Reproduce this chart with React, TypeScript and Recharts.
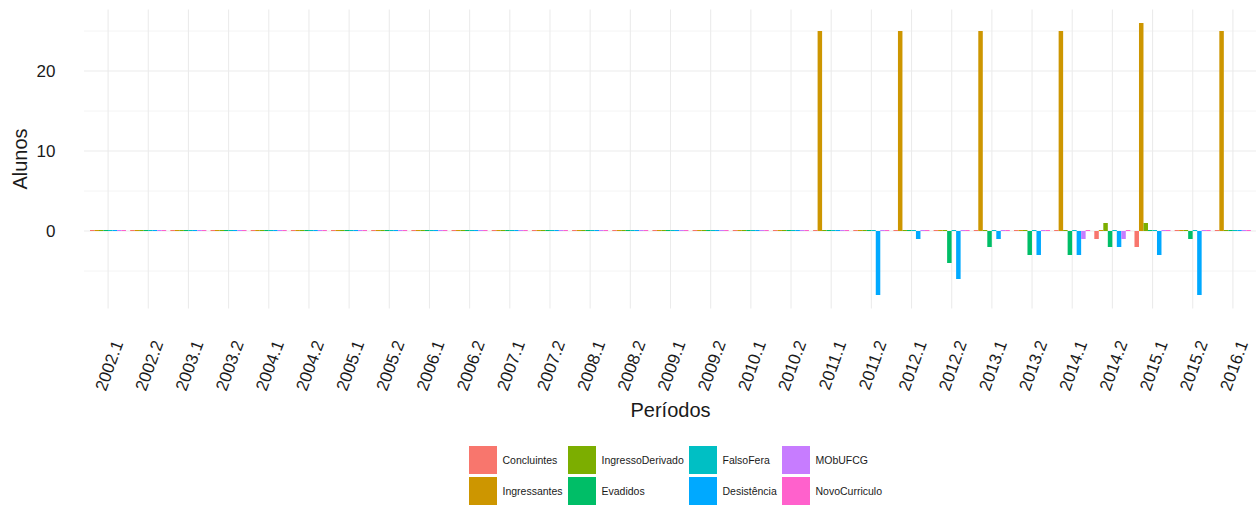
import React from 'react';
import { BarChart, Bar, XAxis, YAxis, CartesianGrid, Legend } from 'recharts';

const FONT = '"Liberation Sans", Arial, Helvetica, sans-serif';
const TEXT = '#1a1a1a';

const periods = [
  '2002.1', '2002.2', '2003.1', '2003.2', '2004.1', '2004.2', '2005.1', '2005.2',
  '2006.1', '2006.2', '2007.1', '2007.2', '2008.1', '2008.2', '2009.1', '2009.2',
  '2010.1', '2010.2', '2011.1', '2011.2', '2012.1', '2012.2', '2013.1', '2013.2',
  '2014.1', '2014.2', '2015.1', '2015.2', '2016.1',
];

const concluintes = [0, 0, 0, 0, 0, 0, 0, 0, 0, 0, 0, 0, 0, 0, 0, 0, 0, 0, 0, 0, 0, 0, 0, 0, 0, -1, -2, 0, 0];
const ingressantes = [0, 0, 0, 0, 0, 0, 0, 0, 0, 0, 0, 0, 0, 0, 0, 0, 0, 0, 25, 0, 25, 0, 25, 0, 25, 0, 26, 0, 25];
const ingressoDerivado = [0, 0, 0, 0, 0, 0, 0, 0, 0, 0, 0, 0, 0, 0, 0, 0, 0, 0, 0, 0, 0, 0, 0, 0, 0, 1, 1, 0, 0];
const evadidos = [0, 0, 0, 0, 0, 0, 0, 0, 0, 0, 0, 0, 0, 0, 0, 0, 0, 0, 0, 0, 0, -4, -2, -3, -3, -2, 0, -1, 0];
const falsoFera = [0, 0, 0, 0, 0, 0, 0, 0, 0, 0, 0, 0, 0, 0, 0, 0, 0, 0, 0, 0, 0, 0, 0, 0, 0, 0, 0, 0, 0];
const desistencia = [0, 0, 0, 0, 0, 0, 0, 0, 0, 0, 0, 0, 0, 0, 0, 0, 0, 0, 0, -8, -1, -6, -1, -3, -3, -2, -3, -8, 0];
const mobUfcg = [0, 0, 0, 0, 0, 0, 0, 0, 0, 0, 0, 0, 0, 0, 0, 0, 0, 0, 0, 0, 0, 0, 0, 0, -1, -1, 0, 0, 0];
const novoCurriculo = [0, 0, 0, 0, 0, 0, 0, 0, 0, 0, 0, 0, 0, 0, 0, 0, 0, 0, 0, 0, 0, 0, 0, 0, 0, 0, 0, 0, 0];

const seriesNames = ['Concluintes', 'Ingressantes', 'IngressoDerivado', 'Evadidos', 'FalsoFera', 'Desistência', 'MObUFCG', 'NovoCurriculo'];
const seriesValues = [concluintes, ingressantes, ingressoDerivado, evadidos, falsoFera, desistencia, mobUfcg, novoCurriculo];
const seriesColors = ['#F8766D', '#CD9600', '#7CAE00', '#00BE67', '#00BFC4', '#00A9FF', '#C77CFF', '#FF61CC'];

const yTicks = [0, 10, 20];
const yMinorTicks = [-5, 5, 15, 25];
const yDomain = [-9.7, 27.7];

const data = periods.map((p, i) => {
  const row: Record<string, string | number> = { periodo: p };
  seriesNames.forEach((name, s) => {
    row[name] = seriesValues[s][i];
  });
  return row;
});

const legendColLefts = [0, 99, 220, 313];

const LegendContent = () => (
  <div style={{ position: 'relative', width: 430, height: 60, fontFamily: FONT, fontSize: 10.5, color: TEXT }}>
    {seriesNames.map((name, i) => {
      const col = Math.floor(i / 2);
      const row = i % 2;
      return (
        <div
          key={name}
          style={{ position: 'absolute', left: legendColLefts[col], top: row * 31, height: 28, display: 'flex', alignItems: 'center' }}
        >
          <div style={{ width: 28, height: 28, background: seriesColors[i] }} />
          <span style={{ marginLeft: 5.5, whiteSpace: 'nowrap' }}>{name}</span>
        </div>
      );
    })}
  </div>
);

const XTick = (props: any) => {
  const { x, y, payload } = props;
  return (
    <text
      transform={`translate(${x + 4},${y}) rotate(-70)`}
      textAnchor="end"
      dy="0.71em"
      fontSize={17}
      fill={TEXT}
      fontFamily={FONT}
    >
      {payload.value}
    </text>
  );
};

const XTitle = (props: any) => {
  const vb = props.viewBox || { x: 84, y: 308.6, width: 1173, height: 120 };
  return (
    <text x={vb.x + vb.width / 2} y={vb.y + 108.4} textAnchor="middle" fontSize={20} fill={TEXT} fontFamily={FONT}>
      Períodos
    </text>
  );
};

const YTitle = (props: any) => {
  const vb = props.viewBox || { x: 0, y: 9.4, width: 84, height: 299.2 };
  const cy = vb.y + vb.height / 2;
  return (
    <text transform={`translate(27,${cy}) rotate(-90)`} textAnchor="middle" fontSize={20} fill={TEXT} fontFamily={FONT}>
      Alunos
    </text>
  );
};

export default function App() {
  return (
    <div style={{ position: 'absolute', left: 0, top: 0, width: 1256, height: 506, overflow: 'hidden', background: '#fff' }}>
      <BarChart
        width={1257}
        height={506}
        data={data}
        margin={{ top: 9.4, right: 0, bottom: 77.4, left: 0 }}
        barGap={0}
        barSize={4.5}
      >
        <CartesianGrid
          horizontalValues={yMinorTicks}
          vertical={false}
          syncWithTicks
          stroke="#ebebeb"
          strokeWidth={0.55}
        />
        <CartesianGrid syncWithTicks stroke="#ebebeb" strokeWidth={1.07} />
        <XAxis
          dataKey="periodo"
          interval={0}
          height={120}
          axisLine={false}
          tickLine={false}
          tickSize={0}
          tickMargin={30.5}
          padding={{ left: 4, right: 4 }}
          tick={<XTick />}
          label={XTitle}
        />
        <YAxis
          type="number"
          domain={yDomain}
          ticks={yTicks}
          allowDataOverflow
          width={84}
          axisLine={false}
          tickLine={false}
          tickSize={0}
          tickMargin={28.5}
          tick={{ fontSize: 17, fill: TEXT, fontFamily: FONT }}
          label={YTitle}
        />
        <Legend
          layout="horizontal"
          verticalAlign="middle"
          align="center"
          content={<LegendContent />}
          wrapperStyle={{ position: 'absolute', left: 469, top: 446, width: 430, height: 60 }}
        />
        {seriesNames.map((name, i) => (
          <Bar key={name} dataKey={name} fill={seriesColors[i]} minPointSize={1} isAnimationActive={false} />
        ))}
      </BarChart>
    </div>
  );
}
